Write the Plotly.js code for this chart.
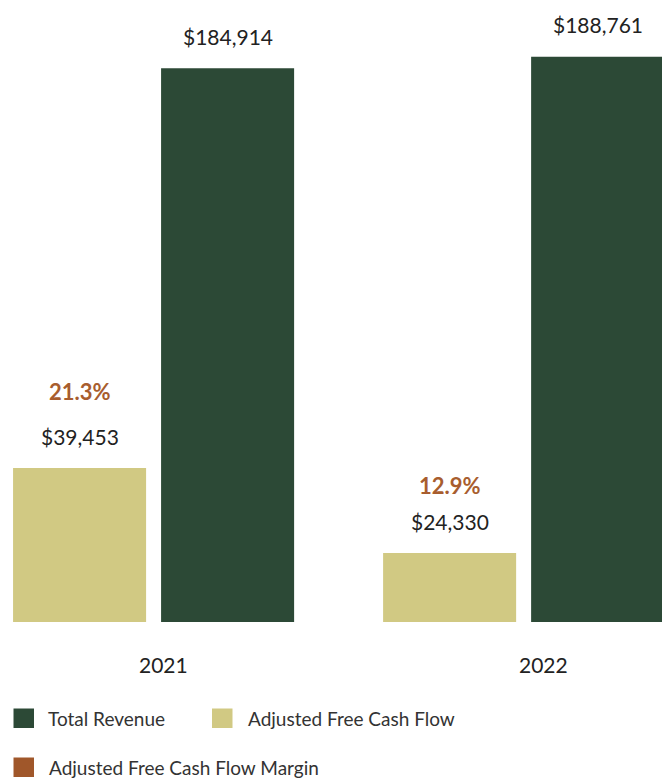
<!DOCTYPE html>
<html>
<head>
<meta charset="utf-8">
<script src="https://cdn.plot.ly/plotly-3.0.1.min.js"></script>
<style>html,body{margin:0;padding:0;background:#fff;}#chart{width:662px;height:778px;}</style>
</head>
<body>
<div id="chart"></div>
<script>
// ---- data ----
var years = ['2021', '2022'];
var totalRevenue = [184914, 188761];
var adjFreeCashFlow = [39453, 24330];
var adjFcfMargin = ['21.3%', '12.9%'];
var revenueLabels = ['$184,914', '$188,761'];
var fcfLabels = ['$39,453', '$24,330'];
var legendNames = ['Total Revenue', 'Adjusted Free Cash Flow', 'Adjusted Free Cash Flow Margin'];

// ---- styles ----
var cGreen = '#2c4936', cTan = '#d1c983', cBrown = '#a0572a', cMarginText = '#a85d2e', cText = '#222222';
var W = 662, H = 778, mb = 156, plotH = H - mb;
var font = 'Lato, "Open Sans", sans-serif';
function pxX(p){ return p / W; }
function pxY(p){ return (plotH - p) / plotH; }

var barW = 0.3595, fcfOff = -0.3797, revOff = 0.0203;
var traces = [
  {type:'bar', name: legendNames[1], x: years, y: adjFreeCashFlow, yaxis:'y2',
   width: barW, offset: fcfOff, marker:{color:cTan}, hoverinfo:'none'},
  {type:'bar', name: legendNames[0], x: years, y: totalRevenue, yaxis:'y',
   width: barW, offset: revOff, marker:{color:cGreen}, hoverinfo:'none'}
];

var ann = [];
var marginShift = [76, 67];
for (var i = 0; i < years.length; i++) {
  ann.push({xref:'x', yref:'y', x: i + revOff + barW/2, y: totalRevenue[i], yshift: 32, xanchor:'center',
    text: revenueLabels[i], showarrow:false, yanchor:'middle', font:{family:font, size:21, color:cText}});
  ann.push({xref:'x', yref:'y2', x: i + fcfOff + barW/2, y: adjFreeCashFlow[i], yshift: 31, xanchor:'center',
    text: fcfLabels[i], showarrow:false, yanchor:'middle', font:{family:font, size:21, color:cText}});
  ann.push({xref:'x', yref:'y2', x: i + fcfOff + barW/2, y: adjFreeCashFlow[i], yshift: marginShift[i], xanchor:'center',
    text: '<b>' + adjFcfMargin[i] + '</b>', showarrow:false, yanchor:'middle', font:{family:font, size:22, color:cMarginText}});
}
var yearLabelX = [163, 543.5];
for (var j = 0; j < years.length; j++) {
  ann.push({xref:'paper', yref:'paper', x: pxX(yearLabelX[j]), y: pxY(664), text: years[j], xanchor:'center',
    showarrow:false, yanchor:'middle', font:{family:font, size:21, color:cText}});
}
// legend (manual)
var legItems = [
  {name: legendNames[0], color: cGreen, sx: 13.5, tx: 46, cy: 718},
  {name: legendNames[1], color: cTan, sx: 212, tx: 246, cy: 718},
  {name: legendNames[2], color: cBrown, sx: 13.5, tx: 47, cy: 767}
];
var shapes = [];
legItems.forEach(function(it){
  shapes.push({type:'rect', xref:'paper', yref:'paper', x0: pxX(it.sx), x1: pxX(it.sx+20.5),
    y0: pxY(it.cy-9.5), y1: pxY(it.cy+10), fillcolor: it.color, line:{width:0}});
  ann.push({xref:'paper', yref:'paper', x: pxX(it.tx), y: pxY(it.cy), xanchor:'left', yanchor:'middle',
    text: it.name, showarrow:false, font:{family:font, size:19, color:'#333333'}});
});

var layout = {
  width: W, height: H,
  margin: {l:0, r:0, t:0, b:mb, pad:0},
  paper_bgcolor:'#ffffff', plot_bgcolor:'#ffffff',
  showlegend: false,
  barmode: 'overlay',
  xaxis: {type:'category', range:[-0.415, 1.374], showticklabels:false, showgrid:false, zeroline:false, showline:false, ticks:'', fixedrange:true},
  yaxis: {range:[0, 207680], visible:false, fixedrange:true},
  yaxis2: {range:[12050, 122726], overlaying:'y', visible:false, fixedrange:true},
  annotations: ann,
  shapes: shapes
};
Plotly.newPlot('chart', traces, layout, {displayModeBar:false, staticPlot:true});
</script>
</body>
</html>
